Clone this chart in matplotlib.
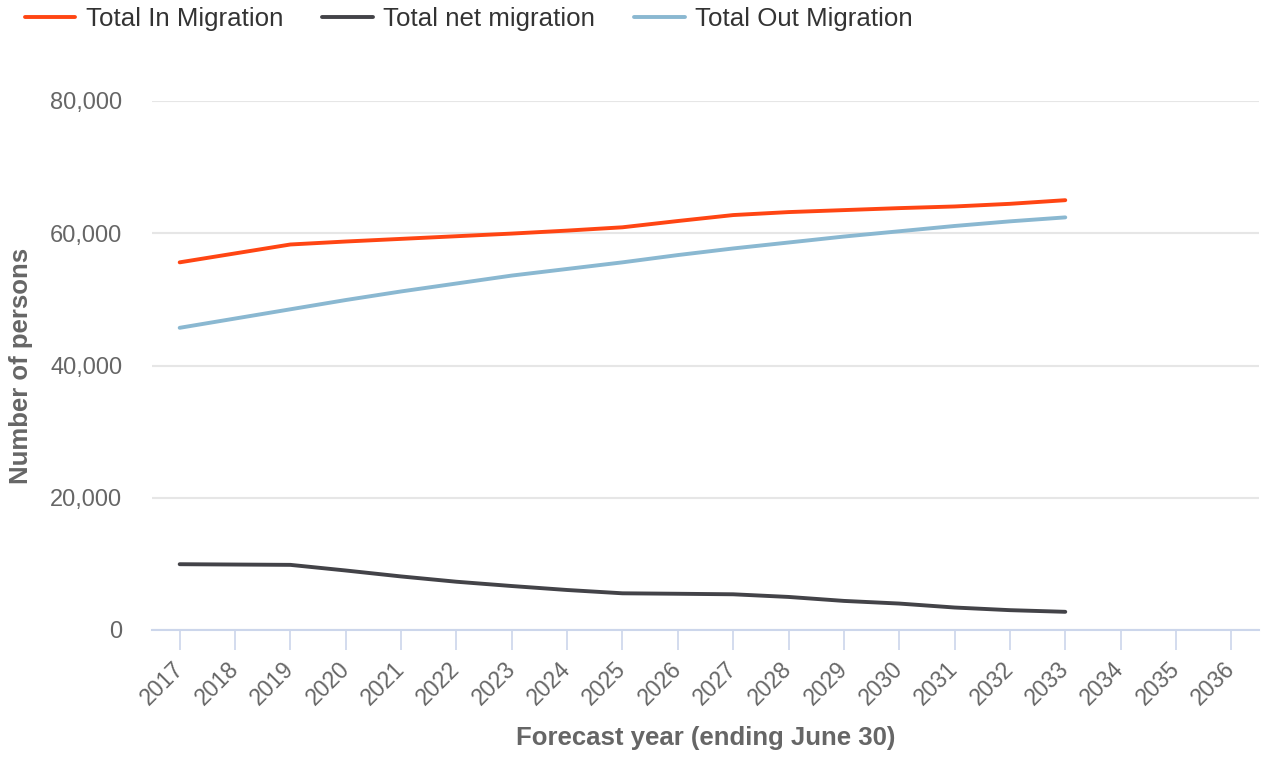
import matplotlib
matplotlib.use("Agg")
import matplotlib.pyplot as plt
from matplotlib.ticker import FuncFormatter

# Forecast years with data, and the full range shown on the axis
years = list(range(2017, 2034))
axis_years = list(range(2017, 2037))

# Migration flows (persons per year ending June 30)
in_migration = [55600, 56950, 58300, 58750, 59150, 59550, 59950, 60400, 60900,
                61850, 62750, 63200, 63500, 63800, 64050, 64450, 65000]
net_migration = [9950, 9900, 9850, 9000, 8100, 7300, 6650, 6050, 5550,
                 5480, 5400, 5000, 4400, 4000, 3400, 3000, 2750]
out_migration = [45700, 47100, 48500, 49900, 51200, 52400, 53600, 54600, 55600,
                 56700, 57700, 58600, 59500, 60300, 61100, 61800, 62400]

series_names = ["Total In Migration", "Total net migration", "Total Out Migration"]
series_colors = ["#ff4513", "#434348", "#8ab8d1"]
y_ticks = [0, 20000, 40000, 60000, 80000]

plt.rcParams["font.family"] = ["Liberation Sans", "DejaVu Sans"]

W, H = 1261, 758
fig = plt.figure(figsize=(W / 100, H / 100), dpi=100)
ax = fig.add_axes([152 / W, 128 / H, 1107 / W, 529 / H])

handles = []
for vals, name, col in zip([in_migration, net_migration, out_migration],
                           series_names, series_colors):
    (ln,) = ax.plot(years, vals, color=col, lw=2.8, label=name,
                    solid_capstyle="round", solid_joinstyle="round", zorder=3)
    handles.append(ln)

ax.set_xlim(2016.5, 2036.5)
ax.set_ylim(0, 80000)
ax.set_yticks(y_ticks)
ax.yaxis.set_major_formatter(FuncFormatter(lambda v, p: f"{int(v):,}"))
ax.set_xticks(axis_years)
ax.set_xticklabels([str(y) for y in axis_years], rotation=45, ha="right",
                   va="center", rotation_mode="anchor")

ax.yaxis.grid(True, color="#e6e6e6", lw=1.5)
ax.set_axisbelow(True)
for side in ["top", "right", "left"]:
    ax.spines[side].set_visible(False)
ax.spines["bottom"].set_color("#ccd6eb")
ax.spines["bottom"].set_linewidth(1.5)

ax.tick_params(axis="y", length=0, pad=21.5, labelsize=17, labelcolor="#666666")
ax.tick_params(axis="x", length=14.4, width=1.2, color="#ccd6eb", pad=11,
               labelsize=16.5, labelcolor="#666666")

ax.set_xlabel("Forecast year (ending June 30)", fontsize=18.5, fontweight="bold",
              color="#666666", labelpad=12)
ax.set_ylabel("Number of persons", fontsize=18.5, fontweight="bold",
              color="#666666", labelpad=12)

fig.legend(handles=handles, labels=series_names, loc="upper left",
           bbox_to_anchor=(25 / W, 1 - 7 / H), ncol=3, frameon=False,
           fontsize=18.6, labelcolor="#333333", handlelength=1.95,
           handletextpad=0.4, columnspacing=1.52, borderpad=0, borderaxespad=0)

fig.savefig("out.png", dpi=100, facecolor="white")
